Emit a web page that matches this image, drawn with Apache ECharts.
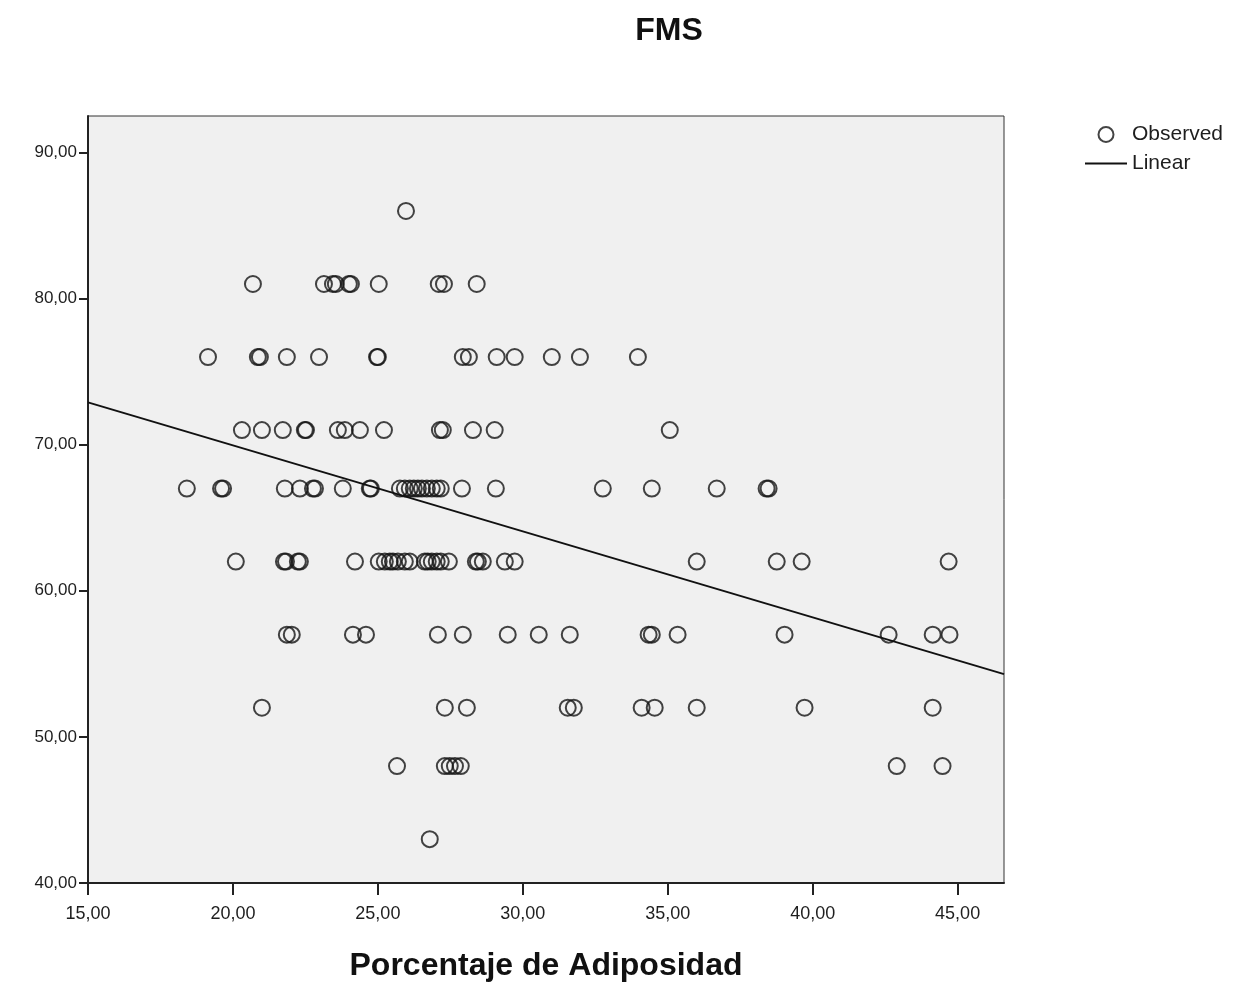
<!DOCTYPE html>
<html>
<head>
<meta charset="utf-8">
<title>FMS</title>
<script src="https://cdn.jsdelivr.net/npm/echarts@6/dist/echarts.min.js"></script>
<style>
  html, body { margin: 0; padding: 0; background: #fff; }
  #chart { width: 1243px; height: 985px; }
</style>
</head>
<body>
<div id="chart"></div>
<script>
// FMS score levels and the adiposity % of each observation at that level
const fms86 = [25.97];
const fms81 = [20.69, 23.14, 23.45, 23.55, 24.0, 24.07, 25.03, 27.10, 27.28, 28.41];
const fms76 = [19.14, 20.86, 20.93, 21.86, 22.97, 24.97, 25.0, 27.93, 28.14, 29.10, 29.72, 31.0, 31.97, 33.97];
const fms71 = [20.31, 21.0, 21.72, 22.48, 22.52, 23.62, 23.86, 24.38, 25.21, 27.14, 27.24, 28.28, 29.03, 35.07];
const fms67 = [18.41, 19.59, 19.66, 21.79, 22.31, 22.76, 22.83, 23.79, 24.72, 24.76, 25.76, 25.93, 26.10,
  26.24, 26.38, 26.52, 26.69, 26.86, 27.03, 27.17, 27.9, 29.07, 32.76, 34.45, 36.69, 38.41, 38.48];
const fms62 = [20.10, 21.76, 21.83, 22.24, 22.31, 24.21, 25.03, 25.24, 25.41, 25.52, 25.69, 25.93, 26.10,
  26.62, 26.72, 26.86, 27.03, 27.17, 27.45, 28.38, 28.45, 28.62, 29.38, 29.72, 36.0, 38.76, 39.62, 44.69];
const fms57 = [21.86, 22.03, 24.14, 24.59, 27.07, 27.93, 29.48, 30.55, 31.62, 34.34, 34.45, 35.34, 39.03, 42.62, 44.14, 44.72];
const fms52 = [21.0, 27.31, 28.07, 31.55, 31.76, 34.1, 34.55, 36.0, 39.72, 44.14];
const fms48 = [25.66, 27.31, 27.48, 27.66, 27.86, 42.9, 44.48];
const fms43 = [26.79];

const levels = [86, 81, 76, 71, 67, 62, 57, 52, 48, 43];
const levelX = [fms86, fms81, fms76, fms71, fms67, fms62, fms57, fms52, fms48, fms43];

// linear fit, read at the two ends of the x range
const fitX = [15, 46.6];
const fitY = [72.9, 54.3];

const xTicks = [15, 20, 25, 30, 35, 40, 45];
const yTicks = [40, 50, 60, 70, 80, 90];

const observed = [];
levels.forEach((lv, i) => {
  levelX[i].forEach((x) => observed.push([x, lv]));
});

const fmt = (v) => Number(v).toFixed(2).replace(".", ",");
const ink = "#1e1e1e";
const font = "'Liberation Sans', Arial, sans-serif";

const chart = echarts.init(document.getElementById("chart"));
chart.setOption({
  animation: false,
  backgroundColor: "#ffffff",
  title: {
    text: "FMS",
    left: 664,
    top: 10,
    textAlign: "center",
    textStyle: { fontFamily: font, fontSize: 32, fontWeight: "bold", color: "#111" },
  },
  legend: {
    orient: "vertical",
    left: 1079,
    top: 119,
    itemWidth: 42,
    itemHeight: 15,
    itemGap: 8,
    textStyle: { fontFamily: font, fontSize: 21, color: ink },
    data: ["Observed", { name: "Linear", itemStyle: { opacity: 0 } }],
  },
  grid: {
    left: 88,
    right: 239,
    top: 116,
    bottom: 102,
    outerBoundsMode: "none",
    show: true,
    backgroundColor: "#f0f0f0",
    borderColor: "#333",
    borderWidth: 1,
  },
  xAxis: {
    type: "value",
    min: 15,
    max: 46.6,
    name: "Porcentaje de Adiposidad",
    nameLocation: "middle",
    nameGap: 67,
    nameTextStyle: { fontFamily: font, fontSize: 32, fontWeight: "bold", color: "#111" },
    splitLine: { show: false },
    axisLine: { lineStyle: { color: "#222", width: 2 } },
    axisTick: { customValues: xTicks, length: 12, lineStyle: { color: "#222", width: 2 } },
    axisLabel: {
      customValues: xTicks,
      formatter: fmt,
      margin: 22,
      fontFamily: font,
      fontSize: 18,
      color: ink,
    },
  },
  yAxis: {
    type: "value",
    min: 40,
    max: 92.5,
    splitLine: { show: false },
    axisLine: { lineStyle: { color: "#222", width: 2 } },
    axisTick: { customValues: yTicks, length: 9, lineStyle: { color: "#222", width: 2 } },
    axisLabel: {
      customValues: yTicks,
      formatter: fmt,
      margin: 11,
      fontFamily: font,
      fontSize: 17,
      color: ink,
    },
  },
  series: [
    {
      name: "Observed",
      type: "scatter",
      symbol: "circle",
      symbolSize: 16,
      itemStyle: { color: "rgba(0,0,0,0)", borderColor: "#151515", borderWidth: 2 },
      data: observed,
    },
    {
      name: "Linear",
      type: "line",
      symbol: "none",
      itemStyle: { color: "rgba(0,0,0,0)" },
      lineStyle: { color: "#111", width: 2 },
      data: fitX.map((x, i) => [x, fitY[i]]),
    },
  ],
});
</script>
</body>
</html>
